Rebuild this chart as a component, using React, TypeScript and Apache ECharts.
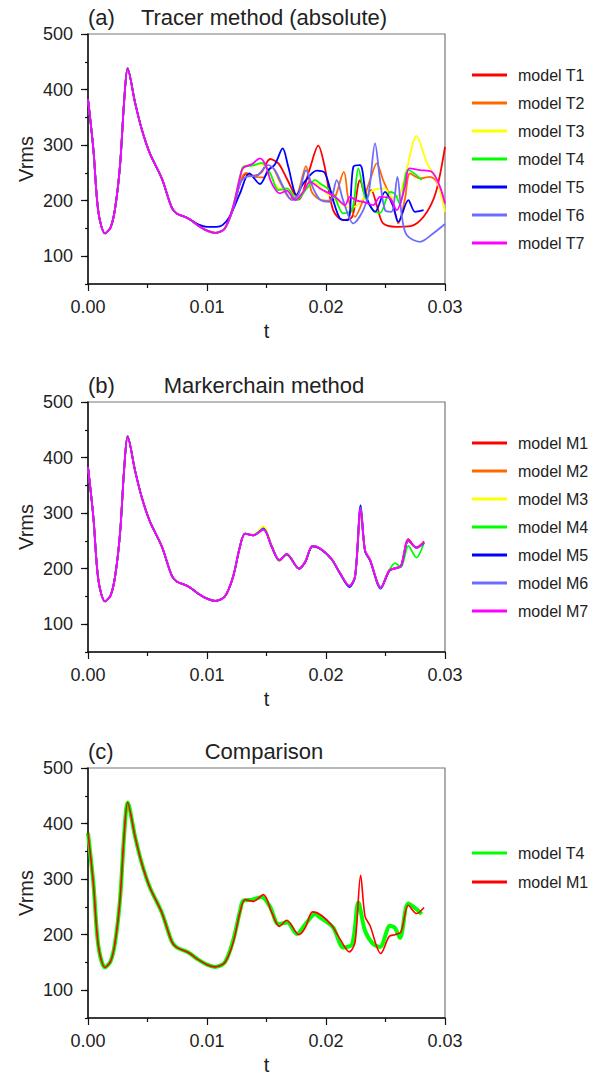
import { useEffect, useRef } from "react";
import * as echarts from "echarts";

const FONT = "'Liberation Sans', Arial, Helvetica, sans-serif";
const INK = "#222";

// Axis ranges and ticks
const T_MIN = 0;
const T_MAX = 0.03;
const T_STEP = 0.01;
const V_MIN = 50;
const V_MAX = 500;
const V_MINOR_STEP = 50;
const V_LABELS = [100, 200, 300, 400, 500];

// Shared start of every run: [t, Vrms]
const HEAD: number[][] = [
  [0, 383], [0.00045, 293], [0.00087, 180], [0.00143, 141], [0.0019, 152],
  [0.00227, 185], [0.00269, 263], [0.00305, 383], [0.00333, 438], [0.00395, 377],
  [0.00451, 329], [0.0052, 285], [0.0062, 240], [0.00703, 188], [0.00745, 177],
  [0.00843, 168],
];
const VALLEY: number[][] = [
  [0.00927, 155], [0.01, 146], [0.01067, 142], [0.0115, 150],
];

// Tracer method runs
const T1_TAIL: number[][] = [
  [0.0122, 186], [0.0128, 232], [0.0133, 248], [0.014, 245], [0.0146, 252], [0.0153, 275],
  [0.016, 267], [0.0167, 240], [0.0177, 202], [0.0186, 255], [0.01935, 299], [0.0199, 260],
  [0.0206, 183], [0.02145, 165], [0.0222, 171], [0.02286, 237], [0.0234, 205], [0.0238, 219],
  [0.0243, 189], [0.0248, 159], [0.0259, 153], [0.0271, 154], [0.0282, 171], [0.0292, 213],
  [0.03, 297],
];
const T2_TAIL: number[][] = [
  [0.0122, 186], [0.0128, 235], [0.0133, 250], [0.0139, 243], [0.01473, 242], [0.01543, 261],
  [0.01613, 234], [0.017, 204], [0.0176, 212], [0.01832, 262], [0.0188, 216], [0.01964, 201],
  [0.0205, 200], [0.0215, 252], [0.02187, 204], [0.02244, 171], [0.0231, 200], [0.0237, 237],
  [0.02426, 267], [0.0248, 237], [0.02552, 201], [0.02608, 159], [0.02664, 204], [0.02706, 249],
  [0.0279, 240], [0.02874, 243], [0.0293, 234], [0.03, 196],
];
const T3_TAIL: number[][] = [
  [0.0122, 190], [0.0128, 245], [0.0132, 262], [0.0138, 265], [0.0146, 266], [0.0153, 248],
  [0.016, 222], [0.0168, 220], [0.0175, 205], [0.0183, 222], [0.019, 232], [0.02, 214],
  [0.021, 200], [0.0218, 188], [0.0225, 190], [0.0232, 205], [0.024, 219], [0.0249, 222],
  [0.0256, 205], [0.0262, 212], [0.0268, 258], [0.0276, 316], [0.0285, 267], [0.0293, 237],
  [0.03, 180],
];
const T4_TAIL: number[][] = [
  [0.0122, 190], [0.0128, 245], [0.01305, 261], [0.0138, 263], [0.0146, 268], [0.0153, 250],
  [0.016, 219], [0.01675, 222], [0.01754, 201], [0.01838, 222], [0.01908, 237], [0.0195, 231],
  [0.0206, 213], [0.02145, 177], [0.0222, 183], [0.02272, 258], [0.02328, 207], [0.02397, 183],
  [0.02454, 178], [0.02538, 216], [0.0258, 212], [0.02622, 194], [0.0269, 256], [0.0276, 246],
  [0.02804, 237],
];
const T5_TAIL: number[][] = [
  [0.0093, 157], [0.01, 153], [0.0108, 153], [0.0113, 156], [0.0119, 171], [0.01277, 213],
  [0.01355, 249], [0.01445, 230], [0.01515, 255], [0.0157, 265], [0.01636, 294], [0.01683, 261],
  [0.01754, 210], [0.0181, 231], [0.01922, 254], [0.0199, 250], [0.0206, 201], [0.02118, 168],
  [0.02185, 165], [0.0223, 261], [0.02286, 264], [0.02342, 205], [0.02412, 180], [0.02496, 216],
  [0.02566, 189], [0.02608, 162], [0.02692, 201], [0.02748, 180], [0.0282, 183],
];
const T6_TAIL: number[][] = [
  [0.0122, 186], [0.0128, 232], [0.01334, 243], [0.0142, 245], [0.01515, 264], [0.0157, 255],
  [0.01641, 225], [0.01712, 201], [0.0177, 212], [0.01832, 255], [0.01893, 222], [0.01954, 201],
  [0.0203, 198], [0.0209, 237], [0.02145, 200], [0.0223, 159], [0.02313, 183], [0.0236, 215],
  [0.02412, 303], [0.02454, 237], [0.02496, 183], [0.0255, 180], [0.026, 243], [0.02636, 174],
  [0.02678, 138], [0.0279, 126], [0.029, 141], [0.03, 158],
];
const T7_TAIL: number[][] = [
  [0.0122, 190], [0.0128, 245], [0.01305, 259], [0.0138, 266], [0.01445, 276], [0.0149, 265],
  [0.01544, 231], [0.01613, 213], [0.0167, 218], [0.0174, 201], [0.01809, 216], [0.01865, 234],
  [0.0195, 222], [0.02076, 207], [0.0216, 192], [0.022, 207], [0.0226, 200], [0.02313, 198],
  [0.02397, 192], [0.02454, 207], [0.02538, 204], [0.02594, 183], [0.02664, 225], [0.027, 258],
  [0.0279, 255], [0.02888, 252], [0.02958, 225], [0.03, 195],
];

// Markerchain method runs: shared times, one value list per model
const M_TIMES = [
  0.0122, 0.01277, 0.0132, 0.0139, 0.01474, 0.01544, 0.01608, 0.0167, 0.01773, 0.01824,
  0.01888, 0.0196, 0.02048, 0.02118, 0.02196, 0.02244, 0.02291, 0.02328, 0.0237, 0.0246,
  0.02532, 0.0258, 0.0263, 0.02692, 0.0276, 0.02824,
];
const M1_VALUES = [186, 240, 263, 260, 272, 240, 215, 226, 200, 212, 241, 235, 217, 192, 169, 186, 307, 233, 216, 166, 197, 200, 205, 253, 238, 249];
const M2_VALUES = [186, 240, 263, 261, 274, 241, 214, 226, 200, 212, 240, 235, 217, 192, 169, 185, 300, 232, 216, 166, 197, 201, 205, 251, 238, 247];
const M3_VALUES = [186, 240, 263, 261, 276, 241, 214, 226, 201, 212, 241, 235, 217, 192, 170, 186, 305, 233, 216, 166, 196, 201, 204, 250, 237, 247];
const M4_VALUES = [186, 240, 263, 260, 271, 240, 215, 225, 200, 212, 240, 235, 216, 192, 169, 185, 303, 232, 215, 167, 197, 210, 203, 241, 220, 247];
const M5_VALUES = [186, 240, 263, 260, 272, 239, 215, 226, 200, 211, 240, 234, 217, 191, 167, 185, 314, 231, 215, 164, 196, 201, 204, 250, 238, 246];
const M6_VALUES = [186, 240, 263, 260, 271, 240, 215, 226, 200, 212, 241, 235, 217, 192, 169, 186, 310, 232, 216, 165, 197, 201, 204, 251, 237, 247];
const M7_VALUES = [186, 240, 263, 260, 270, 240, 216, 226, 200, 212, 241, 235, 217, 192, 169, 186, 307, 233, 216, 166, 197, 200, 205, 252, 238, 247];

const COLORS = ["#ff0000", "#ff6a00", "#ffff00", "#00ff00", "#0000ff", "#6c6cff", "#ff00ff"];

const T_NAMES = ["model T1", "model T2", "model T3", "model T4", "model T5", "model T6", "model T7"];
const M_NAMES = ["model M1", "model M2", "model M3", "model M4", "model M5", "model M6", "model M7"];

const PANEL_TITLES = ["Tracer method (absolute)", "Markerchain method", "Comparison"];
const PANEL_TAGS = ["(a)", "(b)", "(c)"];

const GRID_LEFT = 88;
const GRID_W = 357;
const GRID_H = 250;
const GRID_TOPS = [34, 402, 768];
const LEGEND_TOPS = [67, 435, 845];

const zip = (ts: number[], vs: number[]) => ts.map((t, i) => [t, vs[i]]);

const T_DATA = [
  HEAD.concat(VALLEY, T1_TAIL),
  HEAD.concat(VALLEY, T2_TAIL),
  HEAD.concat(VALLEY, T3_TAIL),
  HEAD.concat(VALLEY, T4_TAIL),
  HEAD.concat(T5_TAIL),
  HEAD.concat(VALLEY, T6_TAIL),
  HEAD.concat(VALLEY, T7_TAIL),
];
const M_DATA = [M1_VALUES, M2_VALUES, M3_VALUES, M4_VALUES, M5_VALUES, M6_VALUES, M7_VALUES].map(
  (vs) => HEAD.concat(VALLEY, zip(M_TIMES, vs))
);

function lineSeries(name: string, color: string, data: number[][], panel: number, width = 1.8) {
  return {
    type: "line",
    name,
    data,
    xAxisIndex: panel,
    yAxisIndex: panel * 2,
    showSymbol: false,
    symbol: "none",
    smooth: 0.3,
    lineStyle: { color, width },
    itemStyle: { color },
    emphasis: { disabled: true },
    silent: true,
  };
}

function buildOption() {
  const axisLineStyle = { color: "#111", width: 1.5 };
  const tickStyle = { color: "#111", width: 1.2 };
  const labelStyle = { fontSize: 18, color: INK, fontFamily: FONT };

  const grid = GRID_TOPS.map((top) => ({
    left: GRID_LEFT,
    top,
    width: GRID_W,
    height: GRID_H,
    show: true,
    borderColor: "#777",
    borderWidth: 1.2,
    backgroundColor: "transparent",
  }));

  const xAxis = GRID_TOPS.map((_, i) => ({
    type: "value",
    gridIndex: i,
    min: T_MIN,
    max: T_MAX,
    interval: T_STEP,
    axisLine: { show: true, onZero: false, lineStyle: axisLineStyle },
    axisTick: { show: true, length: 7, lineStyle: tickStyle },
    minorTick: { show: true, splitNumber: 2, length: 4, lineStyle: tickStyle },
    splitLine: { show: false },
    minorSplitLine: { show: false },
    axisLabel: { ...labelStyle, margin: 14, formatter: (v: number) => v.toFixed(2) },
    name: "t",
    nameLocation: "middle",
    nameGap: 37,
    nameTextStyle: { fontSize: 20, color: INK, fontFamily: FONT },
  }));

  const yAxis: any[] = [];
  GRID_TOPS.forEach((_, i) => {
    // minor ticks every 50, axis name
    yAxis.push({
      type: "value",
      gridIndex: i,
      position: "left",
      min: V_MIN,
      max: V_MAX,
      interval: V_MINOR_STEP,
      axisLine: { show: true, onZero: false, lineStyle: axisLineStyle },
      axisTick: { show: true, length: 3, lineStyle: tickStyle },
      axisLabel: { show: false },
      splitLine: { show: false },
      name: "Vrms",
      nameLocation: "middle",
      nameGap: 52,
      nameTextStyle: { fontSize: 20, color: INK, fontFamily: FONT },
    });
    // major ticks and labels every 100
    yAxis.push({
      type: "value",
      gridIndex: i,
      position: "left",
      min: V_MIN,
      max: V_MAX,
      interval: V_MINOR_STEP,
      axisLine: { show: false },
      axisTick: { show: true, length: 7, lineStyle: tickStyle, customValues: V_LABELS },
      axisLabel: { ...labelStyle, margin: 15, customValues: V_LABELS },
      splitLine: { show: false },
    });
  });

  const series: any[] = [];
  T_NAMES.forEach((n, k) => series.push(lineSeries(n, COLORS[k], T_DATA[k], 0)));
  M_NAMES.forEach((n, k) => series.push(lineSeries(n, COLORS[k], M_DATA[k], 1)));
  series.push(lineSeries(T_NAMES[3], COLORS[3], T_DATA[3], 2, 4));
  series.push(lineSeries(M_NAMES[0], COLORS[0], M_DATA[0], 2, 1.6));

  const legendBase = {
    orient: "vertical",
    left: 472,
    itemWidth: 35,
    itemHeight: 3,
    itemGap: 12,
    icon: "rect",
    padding: 0,
    selectedMode: false,
    textStyle: { fontSize: 16, lineHeight: 16, color: INK, fontFamily: FONT, padding: [0, 0, 0, 6] },
  };
  const legend = [
    { ...legendBase, top: LEGEND_TOPS[0], data: T_NAMES },
    { ...legendBase, top: LEGEND_TOPS[1], data: M_NAMES },
    { ...legendBase, top: LEGEND_TOPS[2], itemGap: 13, data: [T_NAMES[3], M_NAMES[0]] },
  ];

  const graphic: any[] = [];
  GRID_TOPS.forEach((top, i) => {
    graphic.push({
      type: "text",
      x: GRID_LEFT,
      y: top - 17,
      style: { text: PANEL_TAGS[i], fontSize: 22, fontFamily: FONT, fill: INK, align: "left", verticalAlign: "middle" },
    });
    graphic.push({
      type: "text",
      x: 264,
      y: top - 17,
      style: { text: PANEL_TITLES[i], fontSize: 22, fontFamily: FONT, fill: INK, align: "center", verticalAlign: "middle" },
    });
  });

  return {
    animation: false,
    backgroundColor: "#fff",
    grid,
    xAxis,
    yAxis,
    legend,
    series,
    graphic,
  };
}

export default function App() {
  const ref = useRef<HTMLDivElement>(null);
  useEffect(() => {
    document.body.style.margin = "0";
    const chart = echarts.init(ref.current as HTMLDivElement, undefined, { renderer: "svg" });
    chart.setOption(buildOption() as any);
    return () => chart.dispose();
  }, []);
  return <div ref={ref} style={{ width: 598, height: 1076 }} />;
}
